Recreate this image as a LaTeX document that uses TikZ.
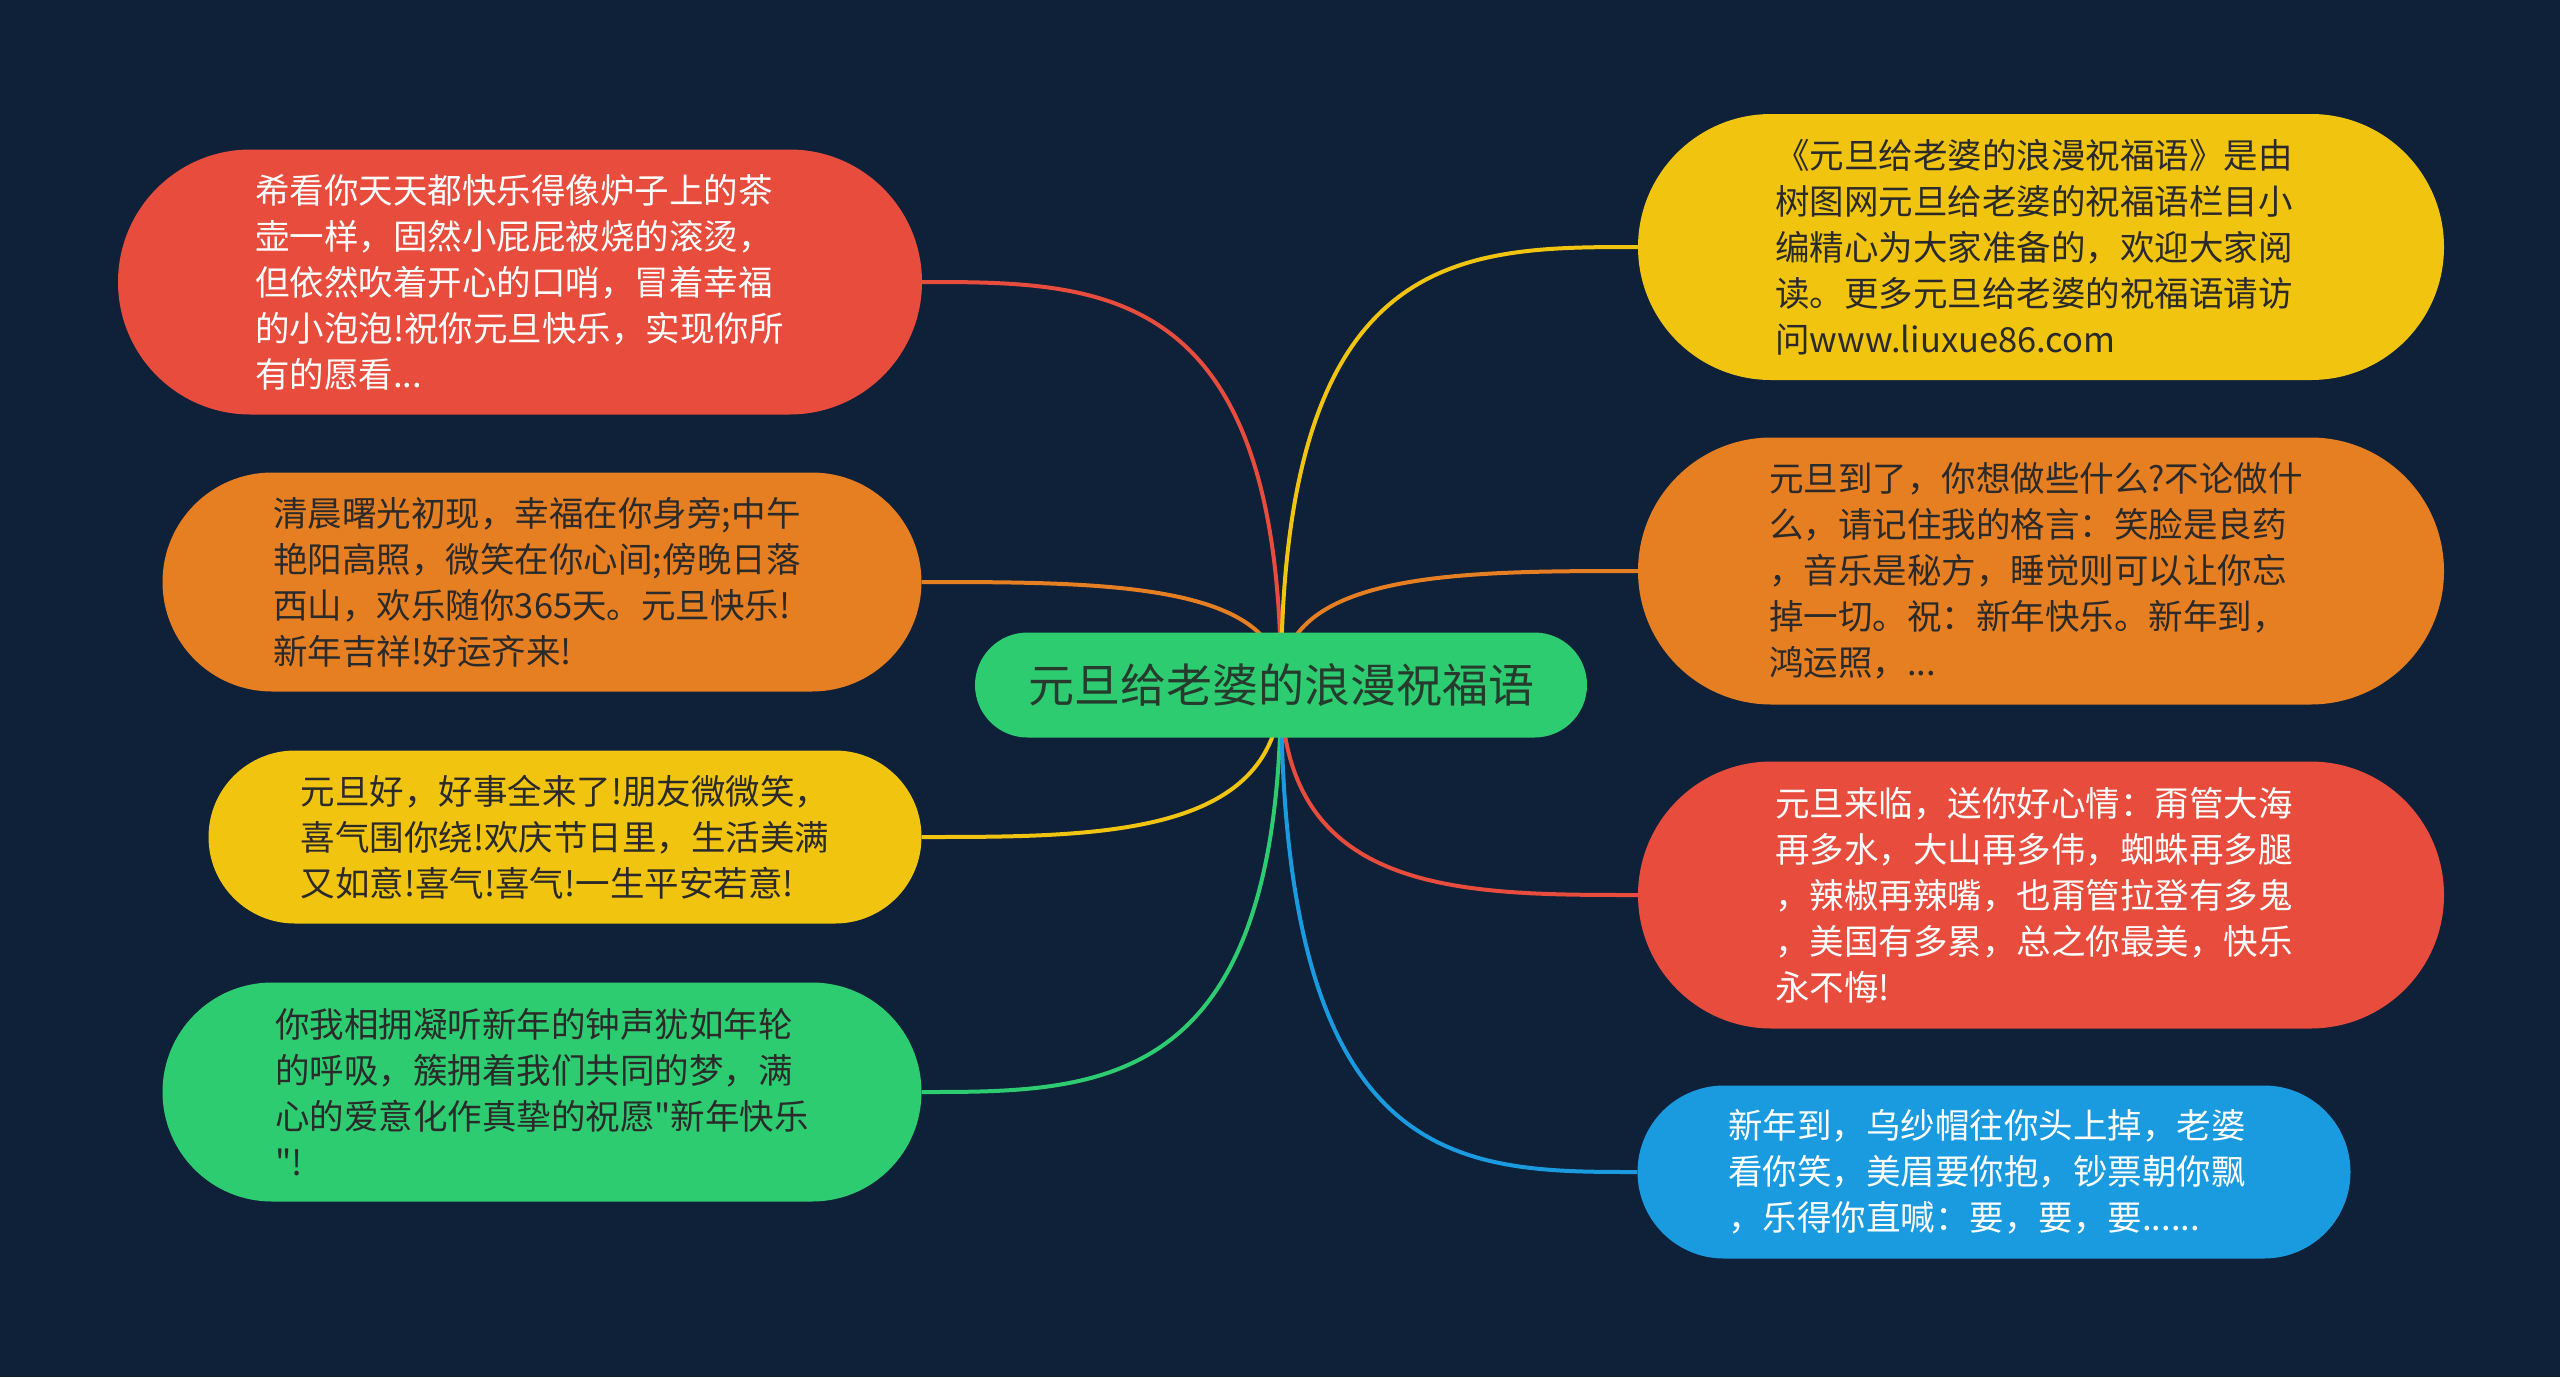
\documentclass[tikz,border=0pt]{standalone}
\usepackage{fontspec}
\setmainfont{Noto Sans CJK SC}[Ligatures=TeXOff]
\usetikzlibrary{shapes.misc,calc}
\definecolor{bg}{HTML}{0E2139}
\definecolor{cred}{HTML}{E74C3C}
\definecolor{corange}{HTML}{E67E22}
\definecolor{cyellow}{HTML}{F1C40F}
\definecolor{cgreen}{HTML}{2ECC71}
\definecolor{cblue}{HTML}{1A9BE0}
\definecolor{darktext}{HTML}{2A2A2A}
\definecolor{titletext}{HTML}{263A2E}
\pgfdeclarelayer{back}
\pgfdeclarelayer{lines}
\pgfsetlayers{back,lines,main}
\tikzset{
  leaf/.style={rounded rectangle, inner sep=0pt, align=left,
    font=\fontsize{34.5}{46}\selectfont},
  rootnode/.style={rounded rectangle, inner sep=0pt, fill=cgreen, text=titletext,
    font=\fontsize{46}{56}\selectfont, minimum width=612pt, minimum height=105pt},
  conn/.style={line width=4pt},
}
\begin{document}
\begin{tikzpicture}[x=1pt,y=-1pt]
\begin{pgfonlayer}{back}
\fill[bg] (0,0) rectangle (2560,1377);
\end{pgfonlayer}
\useasboundingbox (0,0) rectangle (2560,1377);

\node[rootnode] (c) at (1281,685) {元旦给老婆的浪漫祝福语};

\node[leaf, fill=cred, text=white, minimum width=804pt, minimum height=265pt] (l1) at (520,282)
 {希看你天天都快乐得像炉子上的茶\hspace*{12pt}\\壶一样，固然小屁屁被烧的滚烫，\\但依然吹着开心的口哨，冒着幸福\\的小泡泡!祝你元旦快乐，实现你所\\有的愿看...};
\node[leaf, fill=corange, text=darktext, minimum width=759pt, minimum height=219pt] (l2) at (542,582)
 {清晨曙光初现，幸福在你身旁;中午\hspace*{10pt}\\艳阳高照，微笑在你心间;傍晚日落\\西山，欢乐随你365天。元旦快乐!\\新年吉祥!好运齐来!};
\node[leaf, fill=cyellow, text=darktext, minimum width=713pt, minimum height=173pt] (l3) at (565,837)
 {元旦好，好事全来了!朋友微微笑，\\喜气围你绕!欢庆节日里，生活美满\hspace*{10pt}\\又如意!喜气!喜气!一生平安若意!};
\node[leaf, fill=cgreen, text=darktext, minimum width=759pt, minimum height=219pt] (l4) at (542,1092)
 {你我相拥凝听新年的钟声犹如年轮\\的呼吸，簇拥着我们共同的梦，满\\心的爱意化作真挚的祝愿"新年快乐\hspace*{10pt}\\"!};

\node[leaf, fill=cyellow, text=darktext, minimum width=806pt, minimum height=266pt] (r1) at (2041,247)
 {《元旦给老婆的浪漫祝福语》是由\hspace*{14pt}\\树图网元旦给老婆的祝福语栏目小\\编精心为大家准备的，欢迎大家阅\\读。更多元旦给老婆的祝福语请访\\问www.liuxue86.com};
\node[leaf, fill=corange, text=darktext, minimum width=806pt, minimum height=267pt] (r2) at (2041,571)
 {元旦到了，你想做些什么?不论做什\hspace*{10pt}\\么，请记住我的格言：笑脸是良药\\，音乐是秘方，睡觉则可以让你忘\\掉一切。祝：新年快乐。新年到，\\鸿运照，...};
\node[leaf, fill=cred, text=white, minimum width=806pt, minimum height=267pt] (r3) at (2041,895)
 {元旦来临，送你好心情：甭管大海\hspace*{14pt}\\再多水，大山再多伟，蜘蛛再多腿\\，辣椒再辣嘴，也甭管拉登有多鬼\\，美国有多累，总之你最美，快乐\\永不悔!};
\node[leaf, fill=cblue, text=white, minimum width=713pt, minimum height=173pt] (r4) at (1994,1172)
 {新年到，乌纱帽往你头上掉，老婆\hspace*{14pt}\\看你笑，美眉要你抱，钞票朝你飘\\，乐得你直喊：要，要，要......};

\begin{pgfonlayer}{lines}
\foreach \n/\a/\col in {l1/east/cred, l2/east/corange, l3/east/cyellow, l4/east/cgreen,
                        r1/west/cyellow, r2/west/corange, r3/west/cred, r4/west/cblue}{
  \draw[conn, draw=\col] (c.center) .. controls (c.center |- \n.\a) and ($(c.center |- \n.\a)!0.5!(\n.\a)$) .. (\n.\a);
}
\end{pgfonlayer}
\end{tikzpicture}
\end{document}
